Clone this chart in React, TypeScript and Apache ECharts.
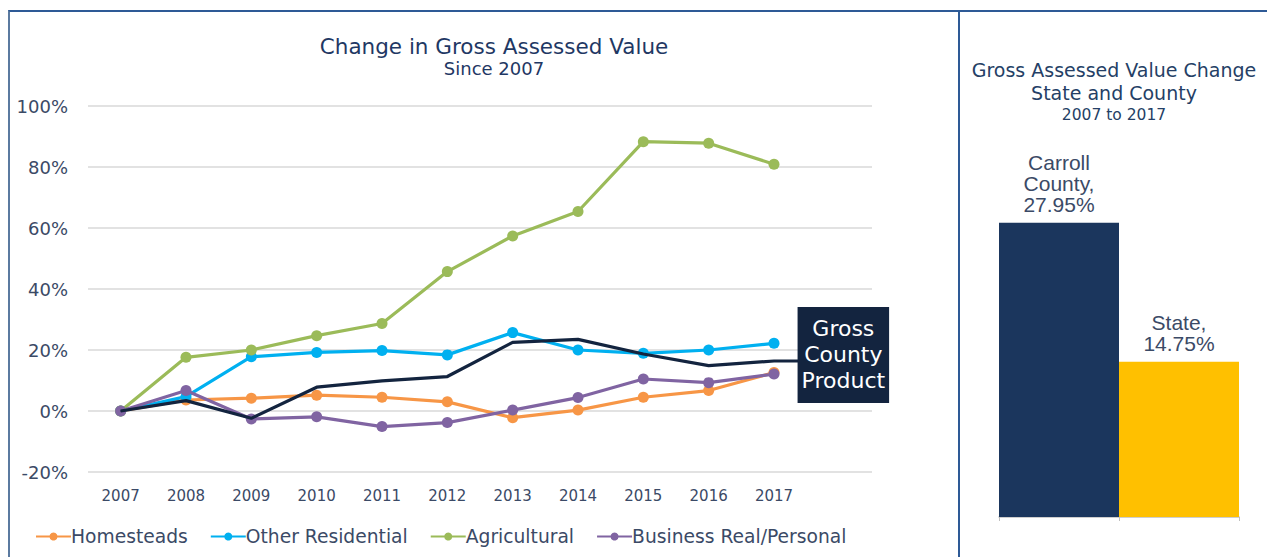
import React, { useEffect, useRef } from "react";
import * as echarts from "echarts";

const years = ["2007", "2008", "2009", "2010", "2011", "2012", "2013", "2014", "2015", "2016", "2017", ""];
const homesteads = [0, 3.6, 4.2, 5.2, 4.5, 3.0, -2.2, 0.3, 4.5, 6.7, 12.6];
const otherResidential = [0, 4.7, 17.8, 19.2, 19.8, 18.4, 25.7, 20.0, 18.9, 20.0, 22.2];
const agricultural = [0, 17.6, 20.0, 24.7, 28.7, 45.7, 57.4, 65.4, 88.3, 87.8, 80.9];
const businessRealPersonal = [0, 6.7, -2.6, -1.9, -5.1, -3.8, 0.3, 4.4, 10.5, 9.3, 12.1];
const grossCountyProduct = [0, 3.4, -2.4, 7.8, 9.9, 11.3, 22.5, 23.5, 18.7, 14.9, 16.4, 16.4];
const yTicks = { min: -20, max: 100, interval: 20 };

const barCategories = ["Carroll\nCounty", "State"];
const barValues = [27.95, 14.75];

const FONT = "DejaVu Sans, Verdana, sans-serif";
const TEXT = "#3b4a66";

export default function App() {
  const ref = useRef<HTMLDivElement>(null);
  useEffect(() => {
    if (!ref.current) return;
    const chart = echarts.init(ref.current, undefined, { renderer: "svg" });
    const mk = (name: string, data: number[], color: string) => ({
      name,
      type: "line",
      xAxisIndex: 0,
      yAxisIndex: 0,
      data,
      symbol: "circle",
      symbolSize: 11,
      lineStyle: { color, width: 3.2 },
      itemStyle: { color },
      z: 3,
    });
    const gcpData = grossCountyProduct.map((v, i) =>
      i === grossCountyProduct.length - 1
        ? {
            value: v,
            label: {
              show: true,
              position: "inside",
              offset: [4, -6],
              formatter: "Gross\nCounty\nProduct",
              backgroundColor: "#13243f",
              color: "#ffffff",
              fontFamily: FONT,
              fontSize: 22,
              lineHeight: 26,
              padding: [9, 4, 9, 4],
            },
          }
        : v
    );
    chart.setOption({
      animation: false,
      textStyle: { fontFamily: FONT },
      title: [
        {
          text: "Change in Gross Assessed Value",
          subtext: "Since 2007",
          left: 489,
          top: 30,
          textAlign: "center",
          itemGap: 2,
          textStyle: { fontFamily: FONT, fontSize: 21.5, fontWeight: "normal", color: "#1f3864" },
          subtextStyle: { fontFamily: FONT, fontSize: 18, color: "#1f3864" },
        },
        {
          text: "Gross Assessed Value Change\nState and County",
          subtext: "2007 to 2017",
          left: 1109,
          top: 53,
          textAlign: "center",
          itemGap: 3,
          textStyle: { fontFamily: FONT, fontSize: 19, lineHeight: 23, fontWeight: "normal", color: "#253f66" },
          subtextStyle: { fontFamily: FONT, fontSize: 15.5, color: "#253f66" },
        },
      ],
      legend: {
        data: ["Homesteads", "Other Residential", "Agricultural", "Business Real/Personal"],
        left: 30,
        top: 522,
        itemWidth: 35,
        itemHeight: 10,
        itemGap: 22,
        textStyle: { fontFamily: FONT, fontSize: 18.7, color: TEXT, padding: [0, 0, 0, -5] },
      },
      grid: [
        { left: 88, right: 395, top: 106, bottom: 85 },
        { left: 999, right: 28, top: 96, bottom: 40 },
      ],
      xAxis: [
        {
          type: "category",
          gridIndex: 0,
          data: years,
          boundaryGap: true,
          axisLine: { show: false },
          axisTick: { show: false },
          axisLabel: { fontFamily: FONT, fontSize: 15, color: TEXT, margin: 16 },
        },
        {
          type: "category",
          gridIndex: 1,
          data: barCategories,
          axisLine: { show: true, lineStyle: { color: "#bfbfbf", width: 1.5 } },
          axisTick: { show: true, length: 4, lineStyle: { color: "#bfbfbf" } },
          axisLabel: { show: false },
        },
      ],
      yAxis: [
        {
          type: "value",
          gridIndex: 0,
          min: yTicks.min,
          max: yTicks.max,
          interval: yTicks.interval,
          axisLine: { show: false },
          axisTick: { show: false },
          splitLine: { lineStyle: { color: "#d9d9d9", width: 1.5 } },
          axisLabel: { formatter: "{value}%", fontFamily: FONT, fontSize: 18, color: TEXT, margin: 20 },
        },
        {
          type: "value",
          gridIndex: 1,
          min: 0,
          max: 40,
          show: false,
        },
      ],
      series: [
        mk("Homesteads", homesteads, "#f79646"),
        mk("Other Residential", otherResidential, "#00b0f0"),
        mk("Agricultural", agricultural, "#9bbb59"),
        mk("Business Real/Personal", businessRealPersonal, "#8064a2"),
        {
          name: "Gross County Product",
          type: "line",
          xAxisIndex: 0,
          yAxisIndex: 0,
          data: gcpData,
          symbol: "circle",
          symbolSize: 1,
          showSymbol: true,
          lineStyle: { color: "#13243f", width: 3.2 },
          itemStyle: { color: "#13243f" },
          z: 4,
        },
        {
          type: "bar",
          xAxisIndex: 1,
          yAxisIndex: 1,
          barWidth: "100%",
          data: barValues.map((v, i) => ({
            value: v,
            itemStyle: { color: i === 0 ? "#1b365d" : "#ffc000" },
          })),
          label: {
            show: true,
            position: "top",
            distance: 8,
            fontFamily: "Liberation Sans, Arial, sans-serif",
            fontSize: 21,
            lineHeight: 21,
            color: TEXT,
            formatter: (p: any) => `${p.name},\n${p.value.toFixed(2)}%`,
          },
        },
      ],
    });
    return () => chart.dispose();
  }, []);

  return (
    <div style={{ position: "absolute", left: 0, top: 0, width: 1267, height: 557, overflow: "hidden", background: "#fff" }}>
      <div
        style={{
          position: "absolute",
          left: 8,
          top: 10,
          width: 1300,
          height: 600,
          borderTop: "2px solid #2e5a96",
          borderLeft: "2px solid #5b7aa0",
        }}
      />
      <div style={{ position: "absolute", left: 958, top: 10, width: 2, height: 560, background: "#2e5a96" }} />
      <div ref={ref} style={{ position: "absolute", left: 0, top: 0, width: 1267, height: 557 }} />
    </div>
  );
}
